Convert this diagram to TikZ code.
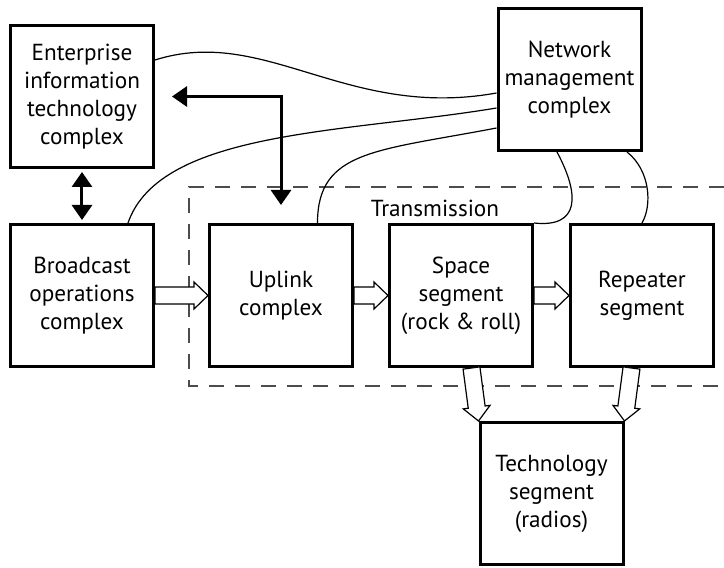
\documentclass[tikz,border=0pt]{standalone}
\usepackage{fontspec}
\setmainfont{PT Sans}
\usetikzlibrary{positioning, calc, arrows.meta}

% hollow block arrow from #1 to #2 (tip at #2)
\newcommand{\fatarrow}[2]{%
  \path[hollow] let \p1=($(#2)-(#1)$), \n1={atan2(\y1,\x1)}, \n2={veclen(\x1,\y1)} in
    [shift={(#1)}, rotate=\n1] (0pt,-4.25pt) -- (\n2-7pt,-4.25pt) -- (\n2-7pt,-6.75pt)
    -- (\n2,0pt) -- (\n2-7pt,6.75pt) -- (\n2-7pt,4.25pt) -- (0pt,4.25pt) -- cycle;}

\begin{document}
\begin{tikzpicture}[
    font=\fontsize{11.6}{14}\selectfont,
    block/.style={rectangle, draw, line width=1.5pt, minimum width=71.5pt, minimum height=71pt, align=center, inner sep=0pt},
    bigarrow/.style={line width=1.5pt, <->, >={Triangle[width=10pt,length=7.5pt]}},
    wire/.style={line width=0.6pt},
    hollow/.style={draw, fill=white, line width=0.6pt},
    frame/.style={draw=black!70, line width=1pt, dash pattern=on 7.5pt off 5.5pt}
  ]
  \useasboundingbox (-41pt,-136.25pt) rectangle (321pt,147.75pt);

  % transmission frame, open to the right
  \draw[frame] (321pt,54.25pt) -| (53.5pt,-45.25pt) -- (321pt,-45.25pt);

  \node[block] (bro) at (0,0) {Broadcast\\operations\\complex};
  \node[block, above=27pt of bro] (ent) {Enterprise\\information\\technology\\complex};
  \node[block, right=26.5pt of bro] (up) {Uplink\\complex};
  \node[block, right=17pt of up] (sp) {Space\\segment\\(rock \& roll)};
  \node[block, right=17.5pt of sp] (rep) {Repeater\\segment};
  \coordinate (mid) at ($(sp.south)!0.5!(rep.south)$);
  \node[block, below=26.5pt of mid] (tech) {Technology\\segment\\(radios)};
  \node[block] (nmc) at (243.75pt,108pt) {Network\\management\\complex};
  \node (trans) at (176.5pt,43.75pt) {Transmission};

  \fatarrow{bro.east}{up.west}
  \fatarrow{up.east}{sp.west}
  \fatarrow{sp.east}{rep.west}
  \fatarrow{[xshift=5.25pt]sp.south}{tech.north west}
  \fatarrow{[xshift=-5.25pt]rep.south}{tech.north east}

  \draw[bigarrow, shorten <=1.5pt, shorten >=1.5pt] (ent) -- (bro);
  \draw[bigarrow] ([xshift=8.5pt]ent.east) -| ([yshift=9pt]up.north);

  % management links
  \draw[wire] ([yshift=18.25pt]ent.east) .. controls +(55pt,17.5pt) and +(-75pt,-13.5pt) .. ([yshift=-6.75pt]nmc.west);
  \draw[wire] ([xshift=23pt]bro.north) .. controls +(16pt,46.5pt) and +(-75pt,-12.5pt) .. ([yshift=-14.25pt]nmc.west);
  \draw[wire] ([xshift=18.25pt]up.north) .. controls +(0pt,36.5pt) and +(-60pt,-11.5pt) .. ([yshift=-24.25pt]nmc.west);
  \draw[wire] ([xshift=-6.25pt]nmc.south) .. controls +(11.5pt,-21.5pt) and +(23pt,-2.5pt) .. (sp.north east);
  \draw[wire] ([xshift=28.75pt]nmc.south) .. controls +(11.5pt,-9pt) and +(5.25pt,9pt) .. (rep.north);
\end{tikzpicture}
\end{document}
